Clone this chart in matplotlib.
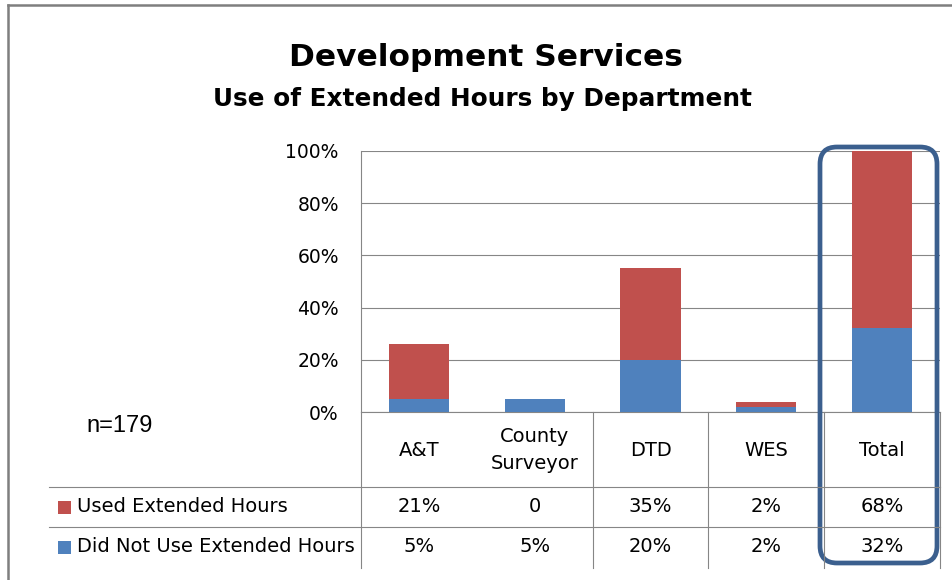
import matplotlib
matplotlib.use("Agg")
import matplotlib.pyplot as plt
import matplotlib.transforms as mtrans
from matplotlib.patches import FancyBboxPatch, Rectangle
import numpy as np

# ---- data ----
departments = ["A&T", "County\nSurveyor", "DTD", "WES", "Total"]
used_hours = [21, 0, 35, 2, 68]        # Used Extended Hours (%)
not_used_hours = [5, 5, 20, 2, 32]     # Did Not Use Extended Hours (%)
series_names = ["Used Extended Hours", "Did Not Use Extended Hours"]
y_ticks = [0, 20, 40, 60, 80, 100]
n_label = "n=179"
title = "Development Services"
subtitle = "Use of Extended Hours by Department"

RED = "#C0504D"
BLUE = "#4F81BD"
GRID = "#868686"
FRAME = "#3B5F8E"

W, H = 953, 580
plt.rcParams["font.family"] = "DejaVu Sans"

fig = plt.figure(figsize=(W / 100, H / 100), dpi=100)
fig.patch.set_facecolor("white")


def frac(x0, y0, x1, y1):
    # pixel box (top-left origin) -> figure fraction rect
    return [x0 / W, 1 - y1 / H, (x1 - x0) / W, (y1 - y0) / H]


# main chart axes
ax = fig.add_axes(frac(361, 151, 940, 412))
x = np.arange(len(departments))
ax.bar(x, not_used_hours, width=0.52, color=BLUE, zorder=3)
ax.bar(x, used_hours, width=0.52, bottom=not_used_hours, color=RED, zorder=3)
ax.set_xlim(-0.5, len(departments) - 0.5)
ax.set_ylim(0, 100)
ax.set_yticks(y_ticks)
ax.set_yticklabels([f"{t}%" for t in y_ticks], fontsize=13.5)
ax.set_xticks([])
ax.tick_params(axis="y", length=0, pad=16)
ax.yaxis.grid(True, color=GRID, lw=0.8, zorder=0)
for s in ["top", "right"]:
    ax.spines[s].set_visible(False)
for s in ["left", "bottom"]:
    ax.spines[s].set_color(GRID)
    ax.spines[s].set_linewidth(0.8)

# overlay in pixel coordinates for table, titles and frame
ov = fig.add_axes([0, 0, 1, 1])
ov.set_xlim(0, W)
ov.set_ylim(H, 0)
ov.axis("off")
ov.patch.set_alpha(0)

# outer chart border
ov.plot([8, 8], [5, H], color="#7F7F7F", lw=1.8)
ov.plot([8, W], [5, 5], color="#7F7F7F", lw=1.8)

ov.text(486, 66, title, ha="center", va="baseline", fontsize=22.5, fontweight="bold")
ov.text(483, 106, subtitle, ha="center", va="baseline", fontsize=17.8, fontweight="bold")
ov.text(86, 432, n_label, ha="left", va="baseline", fontsize=17, family="Liberation Sans")

# data table under the chart: x in category units, y in pixels
tr = mtrans.blended_transform_factory(ax.transData, ov.transData)
row_top, row1, row2, row_bot = 412, 487, 527, 568
for bx in [-0.5, 1.5, 2.5, 3.5, len(departments) - 0.5]:
    ov.plot([bx, bx], [row_top, row_bot], color=GRID, lw=0.8, transform=tr)
for ry in [row1, row2]:
    ov.plot([49, 940], [ry, ry], color=GRID, lw=0.8)

for i, d in enumerate(departments):
    ov.text(i, 450, d, ha="center", va="center", fontsize=14, linespacing=1.55, transform=tr)
    u = used_hours[i]
    ov.text(i, 507, f"{u}%" if u else "0", ha="center", va="center", fontsize=14, transform=tr)
    ov.text(i, 547, f"{not_used_hours[i]}%", ha="center", va="center", fontsize=14, transform=tr)

for yc, name, col in [(507, series_names[0], RED), (547, series_names[1], BLUE)]:
    ov.add_patch(Rectangle((58, yc - 6.5), 13, 13, color=col, lw=0))
    ov.text(77, yc, name, ha="left", va="center", fontsize=14)

# highlight box round the Total column
ov.add_patch(FancyBboxPatch((820, 147), 117, 416,
                            boxstyle="round,pad=0,rounding_size=17",
                            fill=False, ec=FRAME, lw=3.4))

fig.savefig("out.png", dpi=100, facecolor="white")
